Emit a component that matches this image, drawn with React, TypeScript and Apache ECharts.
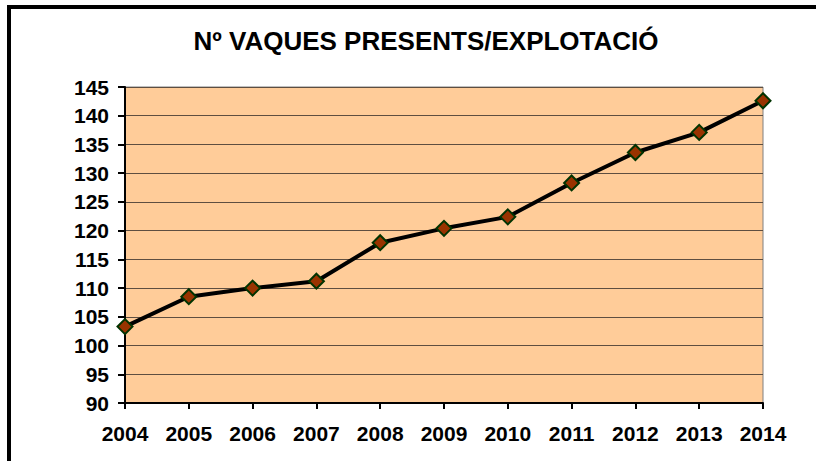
import React, { useEffect, useRef } from "react";
import * as echarts from "echarts";

const years = ["2004", "2005", "2006", "2007", "2008", "2009", "2010", "2011", "2012", "2013", "2014"];
const cows = [103.3, 108.5, 110.0, 111.2, 117.9, 120.4, 122.4, 128.3, 133.6, 137.1, 142.6];
const titleText = "Nº VAQUES PRESENTS/EXPLOTACIÓ";

export default function App() {
  const ref = useRef<HTMLDivElement>(null);
  useEffect(() => {
    if (!ref.current) return;
    const chart = echarts.init(ref.current, null, { renderer: "svg" });
    chart.setOption({
      animation: false,
      backgroundColor: "#ffffff",
      title: {
        text: titleText,
        left: 421,
        top: 23,
        textAlign: "center",
        textStyle: { fontFamily: "Liberation Sans, Arial", fontWeight: "bold", fontSize: 26, color: "#000" },
      },
      graphic: [
        {
          type: "rect",
          shape: { x: 9, y: 7, width: 900, height: 600 },
          style: { fill: "none", stroke: "#000", lineWidth: 4 },
          z: 100,
        },
      ],
      grid: {
        left: 125,
        right: 53,
        top: 87,
        bottom: 58,
        show: true,
        backgroundColor: "#FFCC99",
        borderColor: "#808080",
        borderWidth: 1,
      },
      xAxis: {
        type: "category",
        data: years,
        boundaryGap: false,
        axisLine: { lineStyle: { color: "#000", width: 2 } },
        axisTick: { show: true, length: 6, lineStyle: { color: "#000", width: 2 }, alignWithLabel: true },
        axisLabel: {
          color: "#000",
          fontFamily: "Liberation Sans, Arial",
          fontWeight: "bold",
          fontSize: 21,
          margin: 20,
          interval: 0,
        },
        splitLine: { show: false },
      },
      yAxis: {
        type: "value",
        min: 90,
        max: 145,
        interval: 5,
        axisLine: { show: true, lineStyle: { color: "#000", width: 2 } },
        axisTick: { show: true, length: 7, lineStyle: { color: "#000", width: 2 } },
        axisLabel: {
          color: "#000",
          fontFamily: "Liberation Sans, Arial",
          fontWeight: "bold",
          fontSize: 21,
          margin: 16,
        },
        splitLine: { show: true, lineStyle: { color: "#5e4e40", width: 1 } },
      },
      series: [
        {
          type: "line",
          data: cows,
          symbol: "diamond",
          symbolSize: 15,
          lineStyle: { color: "#000", width: 4 },
          itemStyle: { color: "#993300", borderColor: "#003300", borderWidth: 2 },
          z: 10,
        },
      ],
    });
    return () => chart.dispose();
  }, []);
  return (
    <div
      ref={ref}
      style={{ position: "absolute", left: 0, top: 0, width: 816, height: 461 }}
    />
  );
}
